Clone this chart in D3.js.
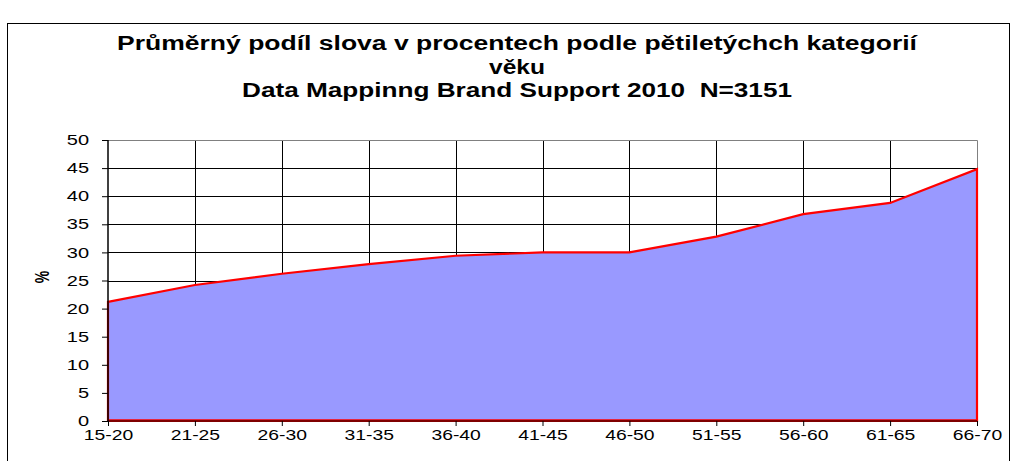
<!DOCTYPE html>
<html><head><meta charset="utf-8">
<script src="https://cdn.jsdelivr.net/npm/d3@7"></script>
<style>body{margin:0;background:#fff}svg{display:block}.t{white-space:pre}</style>
</head><body>
<svg id="c" width="1013" height="461"></svg>
<script>
const categories = ["15-20","21-25","26-30","31-35","36-40","41-45","46-50","51-55","56-60","61-65","66-70"];
const values = [21.2,24.2,26.2,27.9,29.4,30.0,30.0,32.8,36.8,38.8,44.8];
const yTicks = [0,5,10,15,20,25,30,35,40,45,50];
const titleLines = ["Průměrný podíl slova v procentech podle pětiletýchch kategorií","věku","Data Mappinng Brand Support 2010  N=3151"];
const yLabel = "%";

const svg = d3.select("#c");
const font = "'Liberation Sans', Arial, sans-serif";
const sx = 1.38; // horizontal stretch of the original rendering
svg.append("rect").attr("x",7.5).attr("y",23.5).attr("width",1002).attr("height",460)
  .attr("fill","#fff").attr("stroke","#000").attr("stroke-width",1);

const L=108,R=977,T=140,B=421;
const x = d3.scalePoint().domain(categories).range([L,R]);
const y = d3.scaleLinear().domain([0,50]).range([B,T]);

const g = svg.append("g");
g.selectAll(".hg").data(yTicks.filter(d=>d>0&&d<50)).join("line")
  .attr("x1",L).attr("x2",R).attr("y1",d=>Math.round(y(d))+0.5).attr("y2",d=>Math.round(y(d))+0.5)
  .attr("stroke","#000").attr("stroke-width",1);
g.selectAll(".vg").data(categories.slice(1,-1)).join("line")
  .attr("x1",d=>Math.round(x(d))+0.5).attr("x2",d=>Math.round(x(d))+0.5).attr("y1",T).attr("y2",B)
  .attr("stroke","#000").attr("stroke-width",1);
g.append("path").attr("d",`M${L},${T+0.5}H${R+0.5}V${B}`).attr("fill","none").attr("stroke","#808080");

const area = d3.area().x(d=>x(d.c)).y0(y(0)).y1(d=>y(d.v));
const data = categories.map((c,i)=>({c,v:values[i]}));
g.append("path").datum(data).attr("d",d=>area(d)+"Z")
  .attr("fill","#9999FF").attr("stroke","#FF0000").attr("stroke-width",2.2).attr("stroke-linejoin","miter");

const ya = d3.axisLeft(y).tickValues(yTicks).tickSize(6);
const yg = svg.append("g").attr("transform",`translate(${L},0)`).call(ya);
yg.select(".domain").attr("stroke","#000").attr("stroke-width",1.5).attr("d",`M0,${T}V${B}`);
yg.selectAll("text").attr("font-family",font).attr("font-size",14.5).attr("fill","#000")
  .attr("x",-19/sx).attr("transform",`scale(${sx},1)`);

const xa = d3.axisBottom(x).tickSize(5).tickPadding(4);
const xg = svg.append("g").attr("transform",`translate(0,${B})`).call(xa);
xg.select(".domain").attr("stroke","#000").attr("stroke-width",1.2).attr("d",`M${L},0H${R}`);
xg.selectAll("text").attr("font-family",font).attr("font-size",14).attr("fill","#000")
  .attr("transform",`scale(${sx},1)`);
g.append("line").attr("x1",L).attr("x2",R).attr("y1",B-1).attr("y2",B-1).attr("stroke","#FF0000").attr("stroke-width",1.5);

svg.append("text").attr("transform",`translate(49,277) rotate(-90) scale(1,${sx})`).attr("text-anchor","middle")
  .attr("font-family",font).attr("font-weight","bold").attr("font-size",14).text(yLabel);

const titleWidths = [800, 56, 550];
svg.selectAll(".t").data(titleLines).join("text").attr("class","t")
  .attr("x",517).attr("y",(d,i)=>50+i*23.5).attr("text-anchor","middle")
  .attr("font-family",font).attr("font-weight","bold").attr("font-size",20)
  .attr("textLength",(d,i)=>titleWidths[i]).attr("lengthAdjust","spacingAndGlyphs")
  .text(d=>d);
</script>
</body></html>
